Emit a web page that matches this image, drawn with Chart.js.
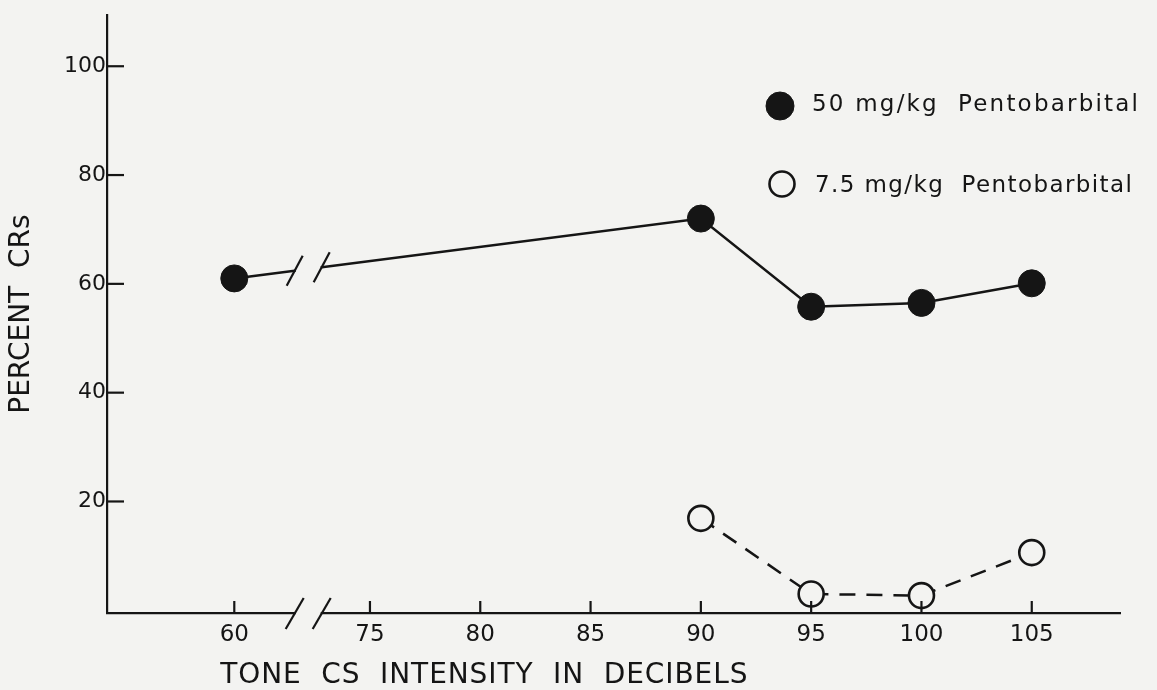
<!DOCTYPE html>
<html><head><meta charset="utf-8">
<script src="https://cdn.jsdelivr.net/npm/chart.js@4.4.1/dist/chart.umd.min.js"></script>
<style>html,body{margin:0;padding:0;background:#f3f3f1;} #wrap{width:1157px;height:690px;position:relative;}</style>
</head><body><div id="wrap"><canvas id="c"></canvas></div>
<script>
// ---- data ----
const xTickLabels = [60, 75, 80, 85, 90, 95, 100, 105];
const yTickValues = [20, 40, 60, 80, 100];
const highDoseDb = [60, 90, 95, 100, 105];
const highDoseCRs = [61.0, 72.0, 55.8, 56.5, 60.1];
const lowDoseDb = [90, 95, 100, 105];
const lowDoseCRs = [16.9, 3.0, 2.7, 10.6];
const seriesLabels = ['50 mg/kg  Pentobarbital', '7.5 mg/kg  Pentobarbital'];
const xTitle = 'TONE  CS  INTENSITY  IN  DECIBELS';
const yTitle = 'PERCENT  CRs';

// ---- axis break (values below 75 dB are shifted right) ----
const BREAK_AT = 75, BREAK_SHIFT = 8.85, BREAK_MARK = 72.2;
const toPos = v => v < BREAK_AT ? v + BREAK_SHIFT : v;
const labelForPos = p => { const m = xTickLabels.find(v => Math.abs(toPos(v) - p) < 1e-6); return m === undefined ? '' : String(m); };

const BG = '#f3f3f1', INK = '#151515';
const FONT = "'DejaVu Sans', sans-serif";

function spacedText(ctx, text, x, y, targetW) {
  ctx.letterSpacing = '0px';
  const w = ctx.measureText(text).width;
  const n = [...text].length;
  const sp = Math.max(0, (targetW - w) / (n - 1));
  ctx.letterSpacing = sp.toFixed(2) + 'px';
  ctx.fillText(text, x, y);
  ctx.letterSpacing = '0px';
}

const bgPlugin = { id: 'bg', beforeDraw(c) { const ctx = c.ctx; ctx.save(); ctx.fillStyle = BG; ctx.fillRect(0, 0, c.width, c.height); ctx.restore(); } };

const decoPlugin = {
  id: 'deco',
  afterDatasetsDraw(chart) {
    const { ctx, chartArea: a, scales: { x, y } } = chart;
    ctx.save();
    ctx.strokeStyle = INK; ctx.lineWidth = 2.2; ctx.lineCap = 'butt';
    // inward tick marks
    yTickValues.forEach(v => { const py = y.getPixelForValue(v); ctx.beginPath(); ctx.moveTo(a.left, py); ctx.lineTo(a.left + 17, py); ctx.stroke(); });
    xTickLabels.forEach(v => { const px = x.getPixelForValue(toPos(v)); ctx.beginPath(); ctx.moveTo(px, a.bottom); ctx.lineTo(px, a.bottom - 12); ctx.stroke(); });
    // axis break
    const bx = x.getPixelForValue(BREAK_MARK), gap = 13.5;
    ctx.fillStyle = BG; ctx.fillRect(bx - gap + 1, a.bottom - 3, 2 * gap - 2, 6);
    for (const s of [-1, 1]) { const cx = bx + s * gap; ctx.beginPath(); ctx.moveTo(cx + 9, a.bottom - 15); ctx.lineTo(cx - 9, a.bottom + 16); ctx.stroke(); }
    // break on the data line
    const pts = chart.getDatasetMeta(0).data, p0 = pts[0], p1 = pts[1];
    const yAt = px => p0.y + (px - p0.x) * (p1.y - p0.y) / (p1.x - p0.x);
    ctx.strokeStyle = BG; ctx.lineWidth = 6;
    ctx.beginPath(); ctx.moveTo(bx - gap + 1, yAt(bx - gap + 1)); ctx.lineTo(bx + gap - 1, yAt(bx + gap - 1)); ctx.stroke();
    ctx.strokeStyle = INK; ctx.lineWidth = 2.2;
    for (const s of [-1, 1]) { const cx = bx + s * gap, cy = yAt(cx); ctx.beginPath(); ctx.moveTo(cx + 8, cy - 15); ctx.lineTo(cx - 8, cy + 15); ctx.stroke(); }
    ctx.restore();
  },
  afterDraw(chart) {
    const { ctx, chartArea: a, scales: { x } } = chart;
    ctx.save();
    ctx.fillStyle = INK; ctx.textBaseline = 'alphabetic'; ctx.textAlign = 'left';
    // x title
    ctx.font = '28px ' + FONT;
    spacedText(ctx, xTitle, x.getPixelForValue(toPos(60)) - 14, 683, 527);
    // legend
    const lx = a.right - 340;
    const rows = [{ y: 106, ty: 111, tw: 326, tx: lx + 32 }, { y: 184, ty: 192, tw: 317, tx: lx + 35 }];
    ctx.font = '23px ' + FONT;
    chart.data.datasets.forEach((ds, i) => {
      const r = rows[i];
      ctx.beginPath(); ctx.arc(lx + (i ? 2 : 0), r.y, i ? 12.5 : 14, 0, Math.PI * 2);
      ctx.fillStyle = ds.pointBackgroundColor; ctx.fill();
      ctx.lineWidth = ds.pointBorderWidth; ctx.strokeStyle = ds.pointBorderColor; ctx.stroke();
      ctx.fillStyle = INK;
      spacedText(ctx, ds.label, r.tx, r.ty, r.tw);
    });
    ctx.restore();
  }
};

new Chart(document.getElementById('c'), {
  type: 'line',
  data: {
    datasets: [
      {
        label: seriesLabels[0],
        data: highDoseDb.map((d, i) => ({ x: toPos(d), y: highDoseCRs[i] })),
        borderColor: INK, borderWidth: 2.5,
        pointRadius: 13.5, pointBackgroundColor: INK, pointBorderColor: INK, pointBorderWidth: 1,
        clip: false, tension: 0
      },
      {
        label: seriesLabels[1],
        data: lowDoseDb.map((d, i) => ({ x: toPos(d), y: lowDoseCRs[i] })),
        borderColor: INK, borderWidth: 2.5, borderDash: [16, 11],
        pointRadius: 12.5, pointBackgroundColor: BG, pointBorderColor: INK, pointBorderWidth: 2.6,
        clip: false, tension: 0
      }
    ]
  },
  options: {
    responsive: true, maintainAspectRatio: false, animation: false,
    layout: { padding: { top: 10, right: 37, left: 0, bottom: 0 } },
    plugins: { legend: { display: false }, tooltip: { enabled: false } },
    scales: {
      x: {
        type: 'linear', min: 63.08, max: 109,
        grid: { display: false, drawTicks: false },
        border: { display: true, color: INK, width: 2.2 },
        afterBuildTicks: s => { s.ticks = xTickLabels.map(v => ({ value: toPos(v) })); },
        afterFit: s => { s.height = 77; },
        ticks: { autoSkip: false, maxRotation: 0, padding: 8, color: INK, font: { family: FONT, size: 23 }, callback: v => labelForPos(v) }
      },
      y: {
        type: 'linear', min: -0.5, max: 109.4,
        grid: { display: false, drawTicks: false },
        border: { display: true, color: INK, width: 2.2 },
        afterBuildTicks: s => { s.ticks = yTickValues.map(v => ({ value: v })); },
        afterFit: s => { s.width = 107; },
        ticks: { padding: 1, color: INK, font: { family: FONT, size: 22 } },
        title: { display: true, text: yTitle, color: INK, font: { family: FONT, size: 28 }, padding: { top: 5, bottom: 0 } }
      }
    }
  },
  plugins: [bgPlugin, decoPlugin]
});
</script>
</body></html>
